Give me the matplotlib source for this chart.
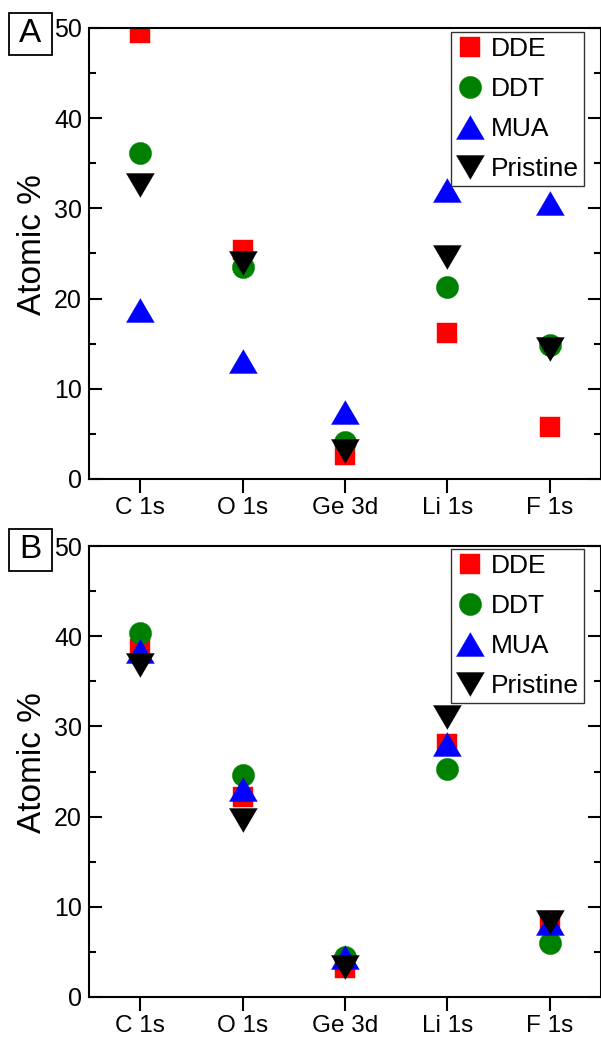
import matplotlib
matplotlib.use("Agg")
import matplotlib.pyplot as plt
from matplotlib.patches import Rectangle
from matplotlib.ticker import MultipleLocator

plt.rcParams['font.family'] = ['Liberation Sans', 'DejaVu Sans']

categories = ["C 1s", "O 1s", "Ge 3d", "Li 1s", "F 1s"]
series_names = ["DDE", "DDT", "MUA", "Pristine"]

# Panel A values (Atomic %)
a_dde = [49.5, 25.4, 2.7, 16.2, 5.8]
a_ddt = [36.1, 23.5, 4.1, 21.3, 14.9]
a_mua = [18.7, 13.1, 7.4, 32.0, 30.6]
a_pristine = [32.6, 23.9, 3.1, 24.6, 14.4]

# Panel B values (Atomic %)
b_dde = [38.6, 22.2, 3.2, 28.0, 8.4]
b_ddt = [40.4, 24.6, 4.4, 25.3, 6.0]
b_mua = [38.4, 23.1, 4.4, 28.1, 8.2]
b_pristine = [36.8, 19.6, 3.3, 31.0, 8.3]

colors = ["#ff0000", "#008000", "#0000ff", "#000000"]
tri_up = [(0, 1), (-1.17, -1), (1.17, -1)]
tri_down = [(0, -1), (-1.17, 1), (1.17, 1)]
markers = ["s", "o", tri_up, tri_down]
msizes = [13.7, 16.0, 20.2, 20.2]

W, H = 601, 1039
fig = plt.figure(figsize=(W / 100, H / 100), dpi=100)

def make_panel(bottom_px, top_px, data, box_top_px):
    ax = fig.add_axes([89 / W, 1 - bottom_px / H, 1 - 89 / W, (bottom_px - top_px) / H])
    x = list(range(1, len(categories) + 1))
    for vals, name, c, m, ms in zip(data, series_names, colors, markers, msizes):
        ax.plot(x, vals, linestyle='none', marker=m, markersize=ms, color=c,
                markeredgecolor=c, markeredgewidth=0.3, label=name)
    ax.set_xlim(0.5, 5.5)
    ax.set_ylim(0, 50)
    ax.set_xticks(x)
    ax.set_xticklabels(categories)
    ax.yaxis.set_major_locator(MultipleLocator(10))
    ax.yaxis.set_minor_locator(MultipleLocator(5))
    for s in ax.spines.values():
        s.set_linewidth(1.5)
    ax.tick_params(axis='y', which='major', direction='in', length=9.5, width=1.5,
                   labelsize=18, right=True, pad=5)
    ax.tick_params(axis='y', which='minor', direction='in', length=5, width=1.5, right=True)
    ax.tick_params(axis='x', which='major', direction='out', length=10, width=1.5,
                   labelsize=17.5, pad=3)
    ax.set_ylabel("Atomic %", fontsize=24)
    ax.yaxis.set_label_coords(-0.08, 0.52)
    leg = ax.legend(loc='upper right',
                    bbox_to_anchor=(0.967, 1 - (box_top_px - top_px) / (bottom_px - top_px)),
                    borderaxespad=0, fontsize=19, frameon=True, fancybox=False,
                    edgecolor='#333333', framealpha=1, handlelength=1.0,
                    handletextpad=0.3, borderpad=0.2, labelspacing=0.6, numpoints=1)
    leg.get_frame().set_linewidth(1.0)
    return ax

make_panel(479, 28, [a_dde, a_ddt, a_mua, a_pristine], 32)
make_panel(997, 546, [b_dde, b_ddt, b_mua, b_pristine], 549)

for lab, ytop in [("A", 13), ("B", 529)]:
    fig.add_artist(Rectangle((9 / W, 1 - (ytop + 42) / H), 43 / W, 42 / H,
                             transform=fig.transFigure, fill=False, edgecolor='black', lw=1.3))
    fig.text(30.5 / W, 1 - (ytop + 21) / H, lab, fontsize=24, ha='center', va='center')

fig.savefig("out.png", dpi=100)
